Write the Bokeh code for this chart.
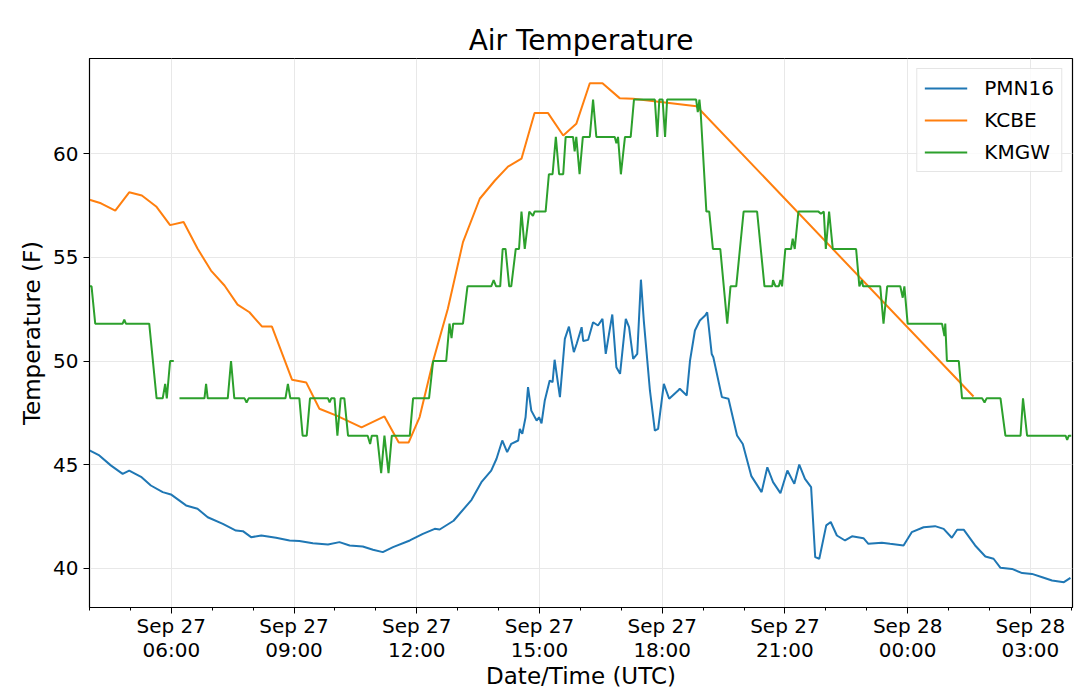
import numpy as np
import pandas as pd
from bokeh.plotting import figure
from bokeh.models import FixedTicker, DatetimeTickFormatter, Range1d
from bokeh.embed import file_html
from bokeh.resources import INLINE

# ---------------- data (hours after Sep 27 00:00 UTC, temperatures in F) ----------------
PMN16_HOURS = [4.00, 4.24, 4.52, 4.81, 4.97, 5.26, 5.50, 5.79, 5.99, 6.36,
               6.64, 6.89, 7.26, 7.58, 7.75, 7.95, 8.20, 8.56, 8.89, 9.13,
               9.46, 9.83, 10.11, 10.36, 10.68, 10.93, 11.17, 11.42, 11.83, 12.15,
               12.44, 12.56, 12.90, 13.34, 13.58, 13.82, 13.95, 14.09, 14.21, 14.31,
               14.48, 14.52, 14.58, 14.66, 14.72, 14.80, 14.93, 14.99, 15.05, 15.13,
               15.25, 15.32, 15.37, 15.50, 15.62, 15.72, 15.84, 15.91, 16.03, 16.07,
               16.19, 16.31, 16.43, 16.54, 16.62, 16.72, 16.78, 16.88, 16.97, 17.11,
               17.19, 17.29, 17.39, 17.48, 17.55, 17.70, 17.82, 17.90, 18.04, 18.17,
               18.39, 18.43, 18.60, 18.68, 18.80, 18.92, 19.05, 19.10, 19.21, 19.25,
               19.46, 19.62, 19.83, 19.97, 20.18, 20.43, 20.57, 20.71, 20.89, 21.06,
               21.23, 21.35, 21.49, 21.64, 21.74, 21.84, 22.01, 22.12, 22.27, 22.47,
               22.64, 22.92, 23.04, 23.37, 23.57, 23.90, 24.10, 24.39, 24.67, 24.88,
               25.08, 25.21, 25.37, 25.65, 25.90, 26.10, 26.27, 26.55, 26.80, 27.04,
               27.29, 27.53, 27.82, 27.98]
PMN16_TEMP = [45.69, 45.45, 44.97, 44.56, 44.72, 44.42, 44.00, 43.68, 43.57, 43.04,
              42.88, 42.47, 42.15, 41.83, 41.80, 41.51, 41.59, 41.48, 41.35, 41.32,
              41.22, 41.16, 41.27, 41.11, 41.06, 40.90, 40.79, 41.03, 41.35, 41.67,
              41.91, 41.88, 42.30, 43.31, 44.16, 44.72, 45.29, 46.17, 45.61, 46.01,
              46.17, 46.73, 46.49, 47.29, 48.74, 47.61, 47.13, 47.29, 47.00, 48.10,
              49.06, 48.98, 50.06, 48.26, 51.07, 51.66, 50.43, 50.83, 51.63, 50.96,
              51.02, 51.87, 51.71, 52.03, 50.34, 51.55, 52.24, 49.70, 49.38, 52.03,
              51.63, 50.10, 50.34, 53.92, 51.95, 48.58, 46.65, 46.73, 48.90, 48.18,
              48.58, 48.66, 48.34, 50.02, 51.47, 51.95, 52.19, 52.35, 50.34, 50.18,
              48.26, 48.18, 46.41, 46.00, 44.45, 43.68, 44.88, 44.16, 43.63, 44.72,
              44.08, 45.01, 44.32, 43.92, 40.55, 40.47, 42.08, 42.24, 41.59, 41.35,
              41.55, 41.46, 41.19, 41.24, 41.19, 41.11, 41.75, 41.99, 42.04, 41.91,
              41.48, 41.87, 41.87, 41.11, 40.58, 40.47, 40.03, 39.98, 39.78, 39.74,
              39.58, 39.42, 39.34, 39.55]

KCBE_HOURS = [4.00, 4.28, 4.63, 4.97, 5.28, 5.63, 5.97, 6.30, 6.64, 6.97,
              7.30, 7.62, 7.91, 8.22, 8.46, 8.95, 9.30, 9.62, 10.04, 10.65,
              11.21, 11.56, 11.80, 12.07, 12.40, 12.76, 13.13, 13.54, 13.91, 14.23,
              14.56, 14.88, 15.21, 15.58, 15.90, 16.23, 16.54, 16.96, 17.29, 18.84,
              25.61]
KCBE_TEMP = [57.77, 57.60, 57.25, 58.13, 57.98, 57.45, 56.55, 56.70, 55.42, 54.36,
             53.64, 52.72, 52.35, 51.66, 51.66, 49.10, 48.96, 47.70, 47.37, 46.80,
             47.33, 46.07, 46.07, 47.30, 50.00, 52.52, 55.73, 57.82, 58.70, 59.37,
             59.75, 61.95, 61.95, 60.87, 61.43, 63.39, 63.39, 62.67, 62.64, 62.28,
             48.29]

nan = float("nan")
KMGW_HOURS = [4.00, 4.05, 4.14, 4.81, 4.85, 4.89, 5.46, 5.64, 5.79, 5.85,
              5.89, 5.97, 6.06, 6.13, 6.20, 6.81, 6.85, 6.89, 7.38, 7.46,
              7.54, 7.79, 7.84, 7.89, 8.79, 8.85, 8.91, 9.13, 9.21, 9.31,
              9.39, 9.83, 9.87, 9.91, 9.99, 10.06, 10.14, 10.23, 10.32, 10.80,
              10.86, 10.90, 11.03, 11.13, 11.21, 11.31, 11.39, 11.83, 11.91, 12.30,
              12.40, 12.72, 12.80, 12.85, 12.89, 13.13, 13.24, 13.82, 13.88, 13.94,
              14.04, 14.10, 14.17, 14.26, 14.31, 14.42, 14.50, 14.56, 14.64, 14.75,
              14.84, 14.88, 15.15, 15.23, 15.32, 15.40, 15.48, 15.58, 15.64, 15.82,
              15.86, 15.90, 15.98, 16.06, 16.23, 16.31, 16.39, 16.84, 16.88, 16.92,
              16.99, 17.09, 17.23, 17.31, 17.82, 17.88, 17.93, 18.01, 18.07, 18.12,
              18.83, 18.87, 18.91, 18.94, 19.08, 19.15, 19.24, 19.42, 19.59, 19.67,
              19.81, 19.99, 20.32, 20.50, 20.69, 20.71, 20.77, 20.85, 20.89, 20.93,
              21.01, 21.15, 21.19, 21.24, 21.33, 21.82, 21.88, 21.95, 22.00, 22.08,
              22.17, 22.74, 22.82, 22.88, 22.91, 23.33, 23.41, 23.50, 23.82, 23.88,
              23.92, 24.00, 24.84, 24.90, 24.92, 24.96, 25.25, 25.33, 25.82, 25.88,
              25.93, 26.27, 26.39, 26.76, 26.82, 26.92, 27.86, 27.90, 27.94, 28.00]
KMGW_TEMP = [53.6, 53.6, 51.8, 51.8, 52.0, 51.8, 51.8, 48.2, 48.2, 48.9,
             48.2, 50.0, 50.0, nan, 48.2, 48.2, 48.9, 48.2, 48.2, 50.0,
             48.2, 48.2, 48.0, 48.2, 48.2, 48.9, 48.2, 48.2, 46.4, 46.4,
             48.2, 48.2, 48.0, 48.2, 48.2, 46.4, 48.2, 48.2, 46.4, 46.4,
             46.0, 46.4, 46.4, 44.6, 46.4, 44.6, 46.4, 46.4, 48.2, 48.2,
             50.0, 50.0, 51.8, 51.1, 51.8, 51.8, 53.6, 53.6, 53.9, 53.6,
             53.6, 55.4, 55.4, 53.6, 53.6, 55.4, 55.4, 57.2, 55.4, 57.2,
             57.0, 57.2, 57.2, 59.0, 59.0, 60.8, 59.0, 59.0, 60.8, 60.8,
             60.1, 60.8, 59.0, 60.8, 60.8, 62.6, 60.8, 60.8, 60.5, 60.8,
             59.0, 60.8, 60.8, 62.6, 62.6, 60.8, 62.6, 62.6, 60.8, 62.6,
             62.6, 62.0, 62.6, 62.0, 57.2, 57.2, 55.4, 55.4, 51.8, 53.6,
             53.6, 57.2, 57.2, 53.6, 53.6, 53.9, 53.6, 53.6, 53.9, 53.6,
             55.4, 55.4, 55.9, 55.4, 57.2, 57.2, 57.1, 57.2, 55.4, 57.2,
             55.4, 55.4, 53.6, 53.9, 53.6, 53.6, 51.8, 53.6, 53.6, 53.05,
             53.6, 51.8, 51.8, 51.2, 51.8, 50.0, 50.0, 48.2, 48.2, 48.0,
             48.2, 48.2, 46.4, 46.4, 48.2, 46.4, 46.4, 46.2, 46.4, 46.4]

SERIES_NAMES = ["PMN16", "KCBE", "KMGW"]
SERIES_COLORS = ["#1f77b4", "#ff7f0e", "#2ca02c"]

TICK_HOURS = [6, 9, 12, 15, 18, 21, 24, 27]
TICK_LABELS = ["Sep 27\n06:00", "Sep 27\n09:00", "Sep 27\n12:00", "Sep 27\n15:00",
               "Sep 27\n18:00", "Sep 27\n21:00", "Sep 28\n00:00", "Sep 28\n03:00"]
Y_TICKS = [40, 45, 50, 55, 60]
X_RANGE_HOURS = (4.0, 28.03)
Y_RANGE = (38.12, 64.58)

# ---------------- conversion to epoch milliseconds ----------------
BASE_MS = pd.Timestamp("2019-09-27 00:00").value // 10**6
HOUR_MS = 3600 * 1000


def to_ms(hours):
    return [BASE_MS + h * HOUR_MS for h in hours]


FONT = "DejaVu Sans"

p = figure(frame_width=983, frame_height=549, x_axis_type="datetime",
           output_backend="svg", toolbar_location=None,
           title="Air Temperature",
           x_range=Range1d(*to_ms(X_RANGE_HOURS)),
           y_range=Range1d(*Y_RANGE),
           min_border_left=89, min_border_right=8,
           min_border_top=58, min_border_bottom=89)

series = [(PMN16_HOURS, PMN16_TEMP), (KCBE_HOURS, KCBE_TEMP), (KMGW_HOURS, KMGW_TEMP)]
for (hrs, temps), name, color in zip(series, SERIES_NAMES, SERIES_COLORS):
    p.line(to_ms(hrs), temps, line_color=color, line_width=2, legend_label=name)

# title
p.title.text_font = FONT
p.title.text_font_size = "28px"
p.title.text_font_style = "normal"
p.title.align = "center"
p.title.text_color = "black"
p.title.standoff = 4

# x axis
tick_ms = [int(t) for t in to_ms(TICK_HOURS)]
p.xaxis.ticker = FixedTicker(ticks=tick_ms, minor_ticks=[int(t) for t in to_ms(range(4, 29))])
fmt = "%b %d\n%H:%M"
p.xaxis.formatter = DatetimeTickFormatter(hours=fmt, hourmin=fmt, minutes=fmt, days=fmt,
                                          months=fmt, minsec=fmt, seconds=fmt)
p.xaxis.major_label_overrides = {t: lab for t, lab in zip(tick_ms, TICK_LABELS)}
p.xaxis.axis_label = "Date/Time (UTC)"

# y axis
p.yaxis.ticker = FixedTicker(ticks=Y_TICKS, minor_ticks=[])
p.yaxis.axis_label = "Temperature (F)"

for ax in (p.xaxis, p.yaxis):
    ax.axis_label_text_font = FONT
    ax.axis_label_text_font_size = "23px"
    ax.axis_label_text_font_style = "normal"
    ax.axis_label_text_color = "black"
    ax.major_label_text_font = FONT
    ax.major_label_text_font_size = "20px"
    ax.major_label_text_color = "black"
    ax.axis_line_color = "black"
    ax.major_tick_line_color = "black"
    ax.minor_tick_line_color = "black"
    ax.major_tick_out = 6
    ax.major_tick_in = 0
    ax.minor_tick_out = 3
    ax.minor_tick_in = 0

p.xaxis.major_label_standoff = 0
p.xaxis.major_label_text_line_height = 1.0
p.xaxis.axis_label_standoff = -2
p.yaxis.major_label_standoff = 5
p.yaxis.axis_label_standoff = 5

p.xgrid.grid_line_color = "#e8e8e8"
p.ygrid.grid_line_color = "#e8e8e8"
p.outline_line_color = "black"
p.outline_line_width = 1.2
p.background_fill_color = "white"
p.border_fill_color = "white"

# legend
lg = p.legend[0]
lg.location = "top_right"
lg.margin = 10
lg.padding = 7
lg.spacing = 8
lg.glyph_width = 43
lg.glyph_height = 22
lg.label_height = 22
lg.label_standoff = 17
lg.label_text_font = FONT
lg.label_text_font_size = "20px"
lg.label_text_color = "black"
lg.border_line_color = "#cccccc"
lg.background_fill_alpha = 0.8

open("out.html", "w").write(file_html(p, INLINE))
